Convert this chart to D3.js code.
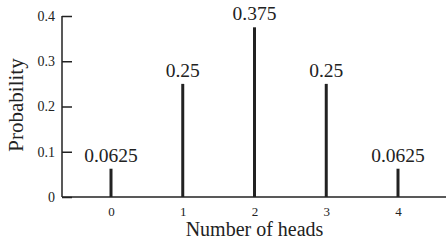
<!DOCTYPE html>
<html>
<head>
  <style>
    body { margin: 0; padding: 0; background: #fff; }
    svg text { font-family: "Liberation Serif", "Times New Roman", serif; fill: #222; }
  </style>
</head>
<body>
  <div id="chart"></div>
  <script src="https://d3js.org/d3.v7.min.js"></script>
  <script>
    // Binomial distribution, 4 coin tosses
    const heads = [0, 1, 2, 3, 4];
    const probs = [0.0625, 0.25, 0.375, 0.25, 0.0625];
    const probLabels = ['0.0625', '0.25', '0.375', '0.25', '0.0625'];
    const yTicks = [0, 0.1, 0.2, 0.3, 0.4];

    const width = 446, height = 242;
    const svg = d3.select('#chart').append('svg')
      .attr('width', width)
      .attr('height', height);

    const axisX = 62, axisY = 197;
    const x = d3.scaleLinear().domain([0, 4]).range([111, 398]);
    const y = d3.scaleLinear().domain([0, 0.4]).range([axisY, 16]);

    // y axis with inward ticks
    const yAxis = svg.append('g')
      .attr('transform', `translate(${axisX},0)`)
      .call(d3.axisRight(y).tickValues(yTicks).tickSize(10).tickFormat(d => d === 0 ? '0' : d3.format('.1f')(d)));
    yAxis.select('.domain').remove();
    yAxis.selectAll('.tick line').attr('stroke', '#222').attr('stroke-width', 1.5);
    yAxis.selectAll('.tick text')
      .attr('x', -7)
      .attr('text-anchor', 'end')
      .style('font-size', '14px');
    svg.append('line')
      .attr('x1', axisX).attr('x2', axisX)
      .attr('y1', y(0.4)).attr('y2', axisY)
      .attr('stroke', '#222').attr('stroke-width', 1.5);

    // x axis line runs to the right edge
    svg.append('line')
      .attr('x1', axisX).attr('x2', width)
      .attr('y1', axisY).attr('y2', axisY)
      .attr('stroke', '#222').attr('stroke-width', 1.5);

    const xAxis = svg.append('g')
      .attr('transform', `translate(0,${axisY})`)
      .call(d3.axisBottom(x).tickValues(heads).tickSize(0).tickPadding(10).tickFormat(d3.format('d')));
    xAxis.select('.domain').remove();
    xAxis.selectAll('.tick text').style('font-size', '13px');

    // bars
    svg.selectAll('.bar')
      .data(probs)
      .enter()
      .append('line')
      .attr('class', 'bar')
      .attr('x1', (d, i) => x(heads[i]))
      .attr('x2', (d, i) => x(heads[i]))
      .attr('y1', axisY)
      .attr('y2', d => y(d))
      .attr('stroke', '#222')
      .attr('stroke-width', 3);

    // value labels
    svg.selectAll('.val')
      .data(probs)
      .enter()
      .append('text')
      .attr('class', 'val')
      .attr('x', (d, i) => x(heads[i]))
      .attr('y', d => y(d) - 7)
      .attr('text-anchor', 'middle')
      .style('font-size', '19.5px')
      .text((d, i) => probLabels[i]);

    // axis titles
    svg.append('text')
      .attr('x', x(2))
      .attr('y', 236)
      .attr('text-anchor', 'middle')
      .style('font-size', '20px')
      .text('Number of heads');

    svg.append('text')
      .attr('transform', `translate(23,105) rotate(-90)`)
      .attr('text-anchor', 'middle')
      .style('font-size', '21px')
      .text('Probability');
  </script>
</body>
</html>
